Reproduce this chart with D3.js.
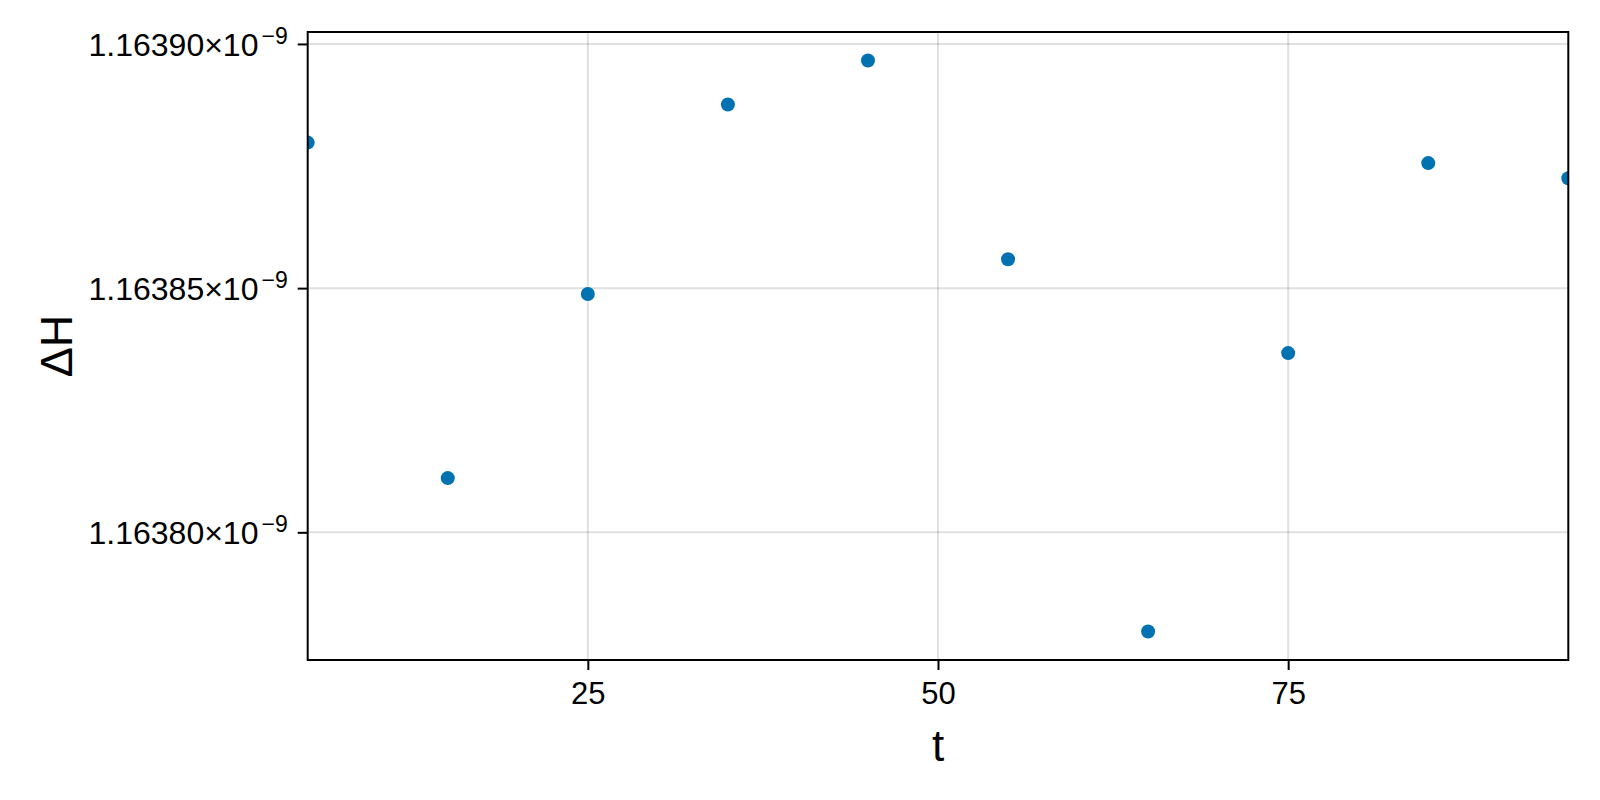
<!DOCTYPE html>
<html>
<head>
<meta charset="utf-8">
<script src="https://cdn.jsdelivr.net/npm/d3@7"></script>
<style>
  body { margin: 0; background: #fff; }
  text { font-family: "Liberation Sans", Arial, sans-serif; fill: #000; }
</style>
</head>
<body>
<div id="chart"></div>
<script>
var w = 1600,
	h = 800;

// data: time points and energy error
var tValues = [5, 15, 25, 35, 45, 55, 65, 75, 85, 95];
var dHValues = [1.1638798e-9, 1.1638111e-9, 1.1638488e-9, 1.1638876e-9, 1.1638966e-9,
	1.1638559e-9, 1.1637797e-9, 1.1638367e-9, 1.1638756e-9, 1.1638725e-9];

// tick labels
var xTicks = [25, 50, 75];
var yTicks = [1.16380e-9, 1.16385e-9, 1.16390e-9];
var yTickMantissa = ["1.16380", "1.16385", "1.16390"];

var margin = {left: 307.7, right: 1600 - 1568.3, top: 32, bottom: 800 - 660};

var svg = d3.select("#chart").append("svg")
	.attr("width", w)
	.attr("height", h);

var x = d3.scaleLinear()
	.domain([5, 95])
	.range([margin.left, w - margin.right]);

// 5% padding like the original auto limits
var yMin = d3.min(dHValues), yMax = d3.max(dHValues);
var pad = (yMax - yMin) * 0.05;
var y = d3.scaleLinear()
	.domain([yMin - pad, yMax + pad])
	.range([h - margin.bottom, margin.top]);

// grid
svg.append("g")
	.selectAll("line.gx")
	.data(xTicks)
	.enter().append("line")
	.attr("x1", d => x(d)).attr("x2", d => x(d))
	.attr("y1", margin.top).attr("y2", h - margin.bottom)
	.attr("stroke", "#000").attr("stroke-opacity", 0.12).attr("stroke-width", 2);

svg.append("g")
	.selectAll("line.gy")
	.data(yTicks)
	.enter().append("line")
	.attr("x1", margin.left).attr("x2", w - margin.right)
	.attr("y1", d => y(d)).attr("y2", d => y(d))
	.attr("stroke", "#000").attr("stroke-opacity", 0.12).attr("stroke-width", 2);

// points, clipped to the plot area
svg.append("clipPath").attr("id", "clip")
	.append("rect")
	.attr("x", margin.left).attr("y", margin.top)
	.attr("width", w - margin.right - margin.left)
	.attr("height", h - margin.bottom - margin.top);

svg.append("g")
	.attr("clip-path", "url(#clip)")
	.selectAll("circle")
	.data(tValues)
	.enter().append("circle")
	.attr("cx", d => x(d))
	.attr("cy", (d, i) => y(dHValues[i]))
	.attr("r", 7)
	.attr("fill", "#0072B2");

// x axis
var xAxis = svg.append("g")
	.attr("transform", "translate(0," + (h - margin.bottom) + ")")
	.call(d3.axisBottom(x).tickValues(xTicks).tickSize(10).tickSizeOuter(0).tickPadding(12));
xAxis.select(".domain").remove();
xAxis.selectAll(".tick line").attr("stroke", "#000").attr("stroke-width", 2);
xAxis.selectAll(".tick text")
	.attr("font-size", "31px")
	.attr("fill", "#000")
	.attr("font-family", "Liberation Sans, Arial, sans-serif");

// y axis
var yAxis = svg.append("g")
	.attr("transform", "translate(" + margin.left + ",0)")
	.call(d3.axisLeft(y).tickValues(yTicks).tickSize(10).tickSizeOuter(0).tickFormat(""));
yAxis.select(".domain").remove();
yAxis.selectAll(".tick line").attr("stroke", "#000").attr("stroke-width", 2);

var yLab = yAxis.selectAll(".tick text")
	.attr("font-size", "32px")
	.attr("fill", "#000")
	.attr("font-family", "Liberation Sans, Arial, sans-serif")
	.attr("x", -20)
	.attr("dy", "0.36em")
	.attr("text-anchor", "end");
yLab.each(function(d, i) {
	var t = d3.select(this);
	t.append("tspan").text(yTickMantissa[i] + "×10");
	t.append("tspan").attr("font-size", "23px").attr("dx", "3").attr("dy", "-12").text("−9");
});

// frame
svg.append("rect")
	.attr("x", margin.left).attr("y", margin.top)
	.attr("width", w - margin.right - margin.left)
	.attr("height", h - margin.bottom - margin.top)
	.attr("fill", "none")
	.attr("stroke", "#000")
	.attr("stroke-width", 2);

// axis titles
svg.append("text")
	.attr("x", (margin.left + w - margin.right) / 2)
	.attr("y", 761)
	.attr("text-anchor", "middle")
	.attr("font-size", "44px")
	.text("t");

svg.append("text")
	.attr("transform", "translate(72," + ((margin.top + h - margin.bottom) / 2) + ") rotate(-90)")
	.attr("text-anchor", "middle")
	.attr("font-size", "45px")
	.text("ΔH");
</script>
</body>
</html>
